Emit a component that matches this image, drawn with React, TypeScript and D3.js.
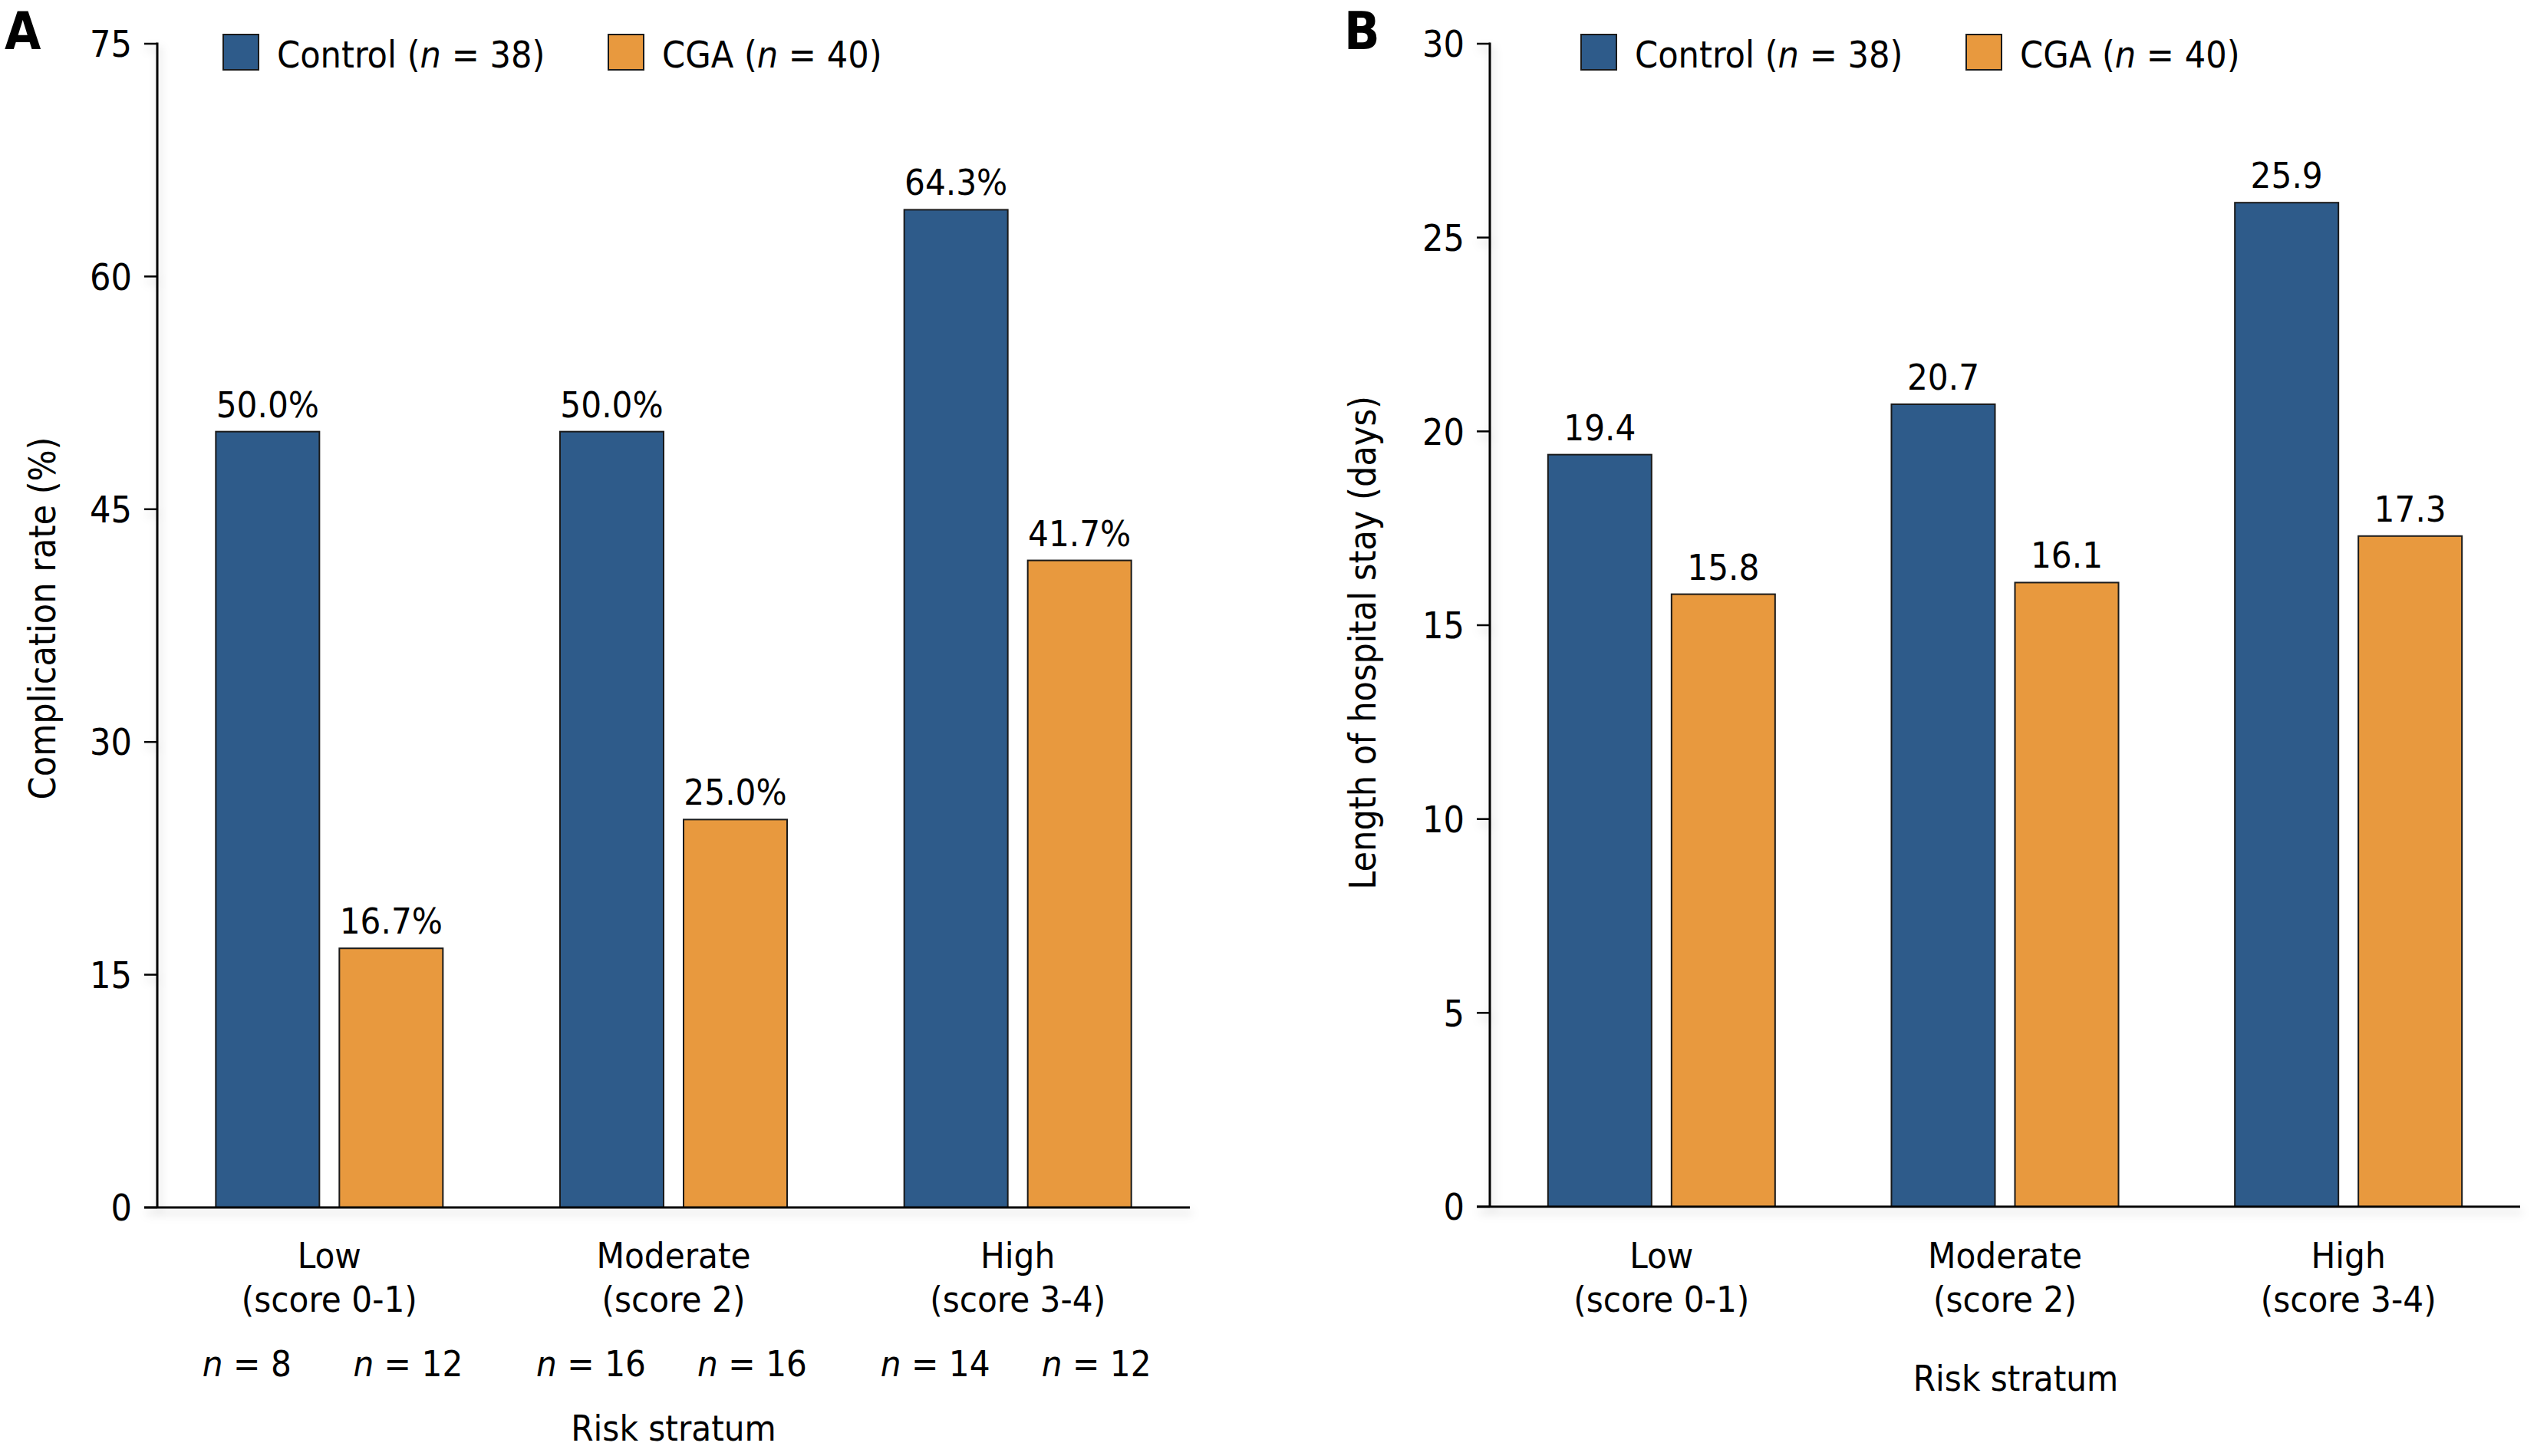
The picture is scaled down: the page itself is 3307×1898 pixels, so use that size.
import React from "react";
import * as d3 from "d3";

const W = 3307;
const H = 1898;

const categories = ["Low", "Moderate", "High"];
const categorySub = ["(score 0-1)", "(score 2)", "(score 3-4)"];
const seriesKeys = ["Control", "CGA"];
const seriesN = [38, 40];
const seriesColors = ["#2E5B8A", "#E8993E"];

const complicationControl = [50.0, 50.0, 64.3];
const complicationCGA = [16.7, 25.0, 41.7];
const losControl = [19.4, 20.7, 25.9];
const losCGA = [15.8, 16.1, 17.3];
const nControl = [8, 16, 14];
const nCGA = [12, 16, 12];

const ticksA = [0, 15, 30, 45, 60, 75];
const ticksB = [0, 5, 10, 15, 20, 25, 30];

const FONT = "'DejaVu Sans Condensed', 'DejaVu Sans', sans-serif";

type PanelCfg = {
  letter: string;
  letterX: number;
  axisX: number;
  rightX: number;
  yTop: number;
  yBottom: number;
  max: number;
  ticks: number[];
  control: number[];
  cga: number[];
  fmt: (v: number) => string;
  title: string;
  titleX: number;
  titleY: number;
  showN: boolean;
  riskY: number;
  riskDX: number;
  legendX: number;
};

const panels: PanelCfg[] = [
  {
    letter: "A",
    letterX: 6,
    axisX: 205,
    rightX: 1551,
    yTop: 57,
    yBottom: 1574,
    max: 75,
    ticks: ticksA,
    control: complicationControl,
    cga: complicationCGA,
    fmt: (v) => `${v.toFixed(1)}%`,
    title: "Complication rate (%)",
    titleX: 72,
    titleY: 806,
    showN: true,
    riskY: 1878,
    riskDX: 0,
    legendX: 291,
  },
  {
    letter: "B",
    letterX: 1752,
    axisX: 1942,
    rightX: 3285,
    yTop: 57,
    yBottom: 1573,
    max: 30,
    ticks: ticksB,
    control: losControl,
    cga: losCGA,
    fmt: (v) => v.toFixed(1),
    title: "Length of hospital stay (days)",
    titleX: 1793,
    titleY: 838,
    showN: false,
    riskY: 1813,
    riskDX: 14,
    legendX: 2061,
  },
];

function Panel({ p }: { p: PanelCfg }) {
  const y = d3.scaleLinear().domain([0, p.max]).range([p.yBottom, p.yTop]);
  const xg = d3.scaleBand<string>().domain(categories).range([p.axisX, p.rightX]).paddingInner(0).paddingOuter(0);
  const bw = xg.bandwidth();
  const xs = d3
    .scaleBand<string>()
    .domain(seriesKeys)
    .range([bw / 2 - 148, bw / 2 + 148])
    .paddingInner(26 / 161)
    .paddingOuter(0);
  const values = [p.control, p.cga];
  const ns = [nControl, nCGA];
  const nOffsets = [-27, 22];
  const tickLen = 17;

  return (
    <g>
      <text x={p.letterX} y={64} fontFamily={FONT} fontWeight="bold" fontSize={68} fill="#000">
        {p.letter}
      </text>

      {/* legend */}
      {seriesKeys.map((k, i) => {
        const lx = p.legendX + i * 502;
        return (
          <g key={k}>
            <rect x={lx} y={45} width={46} height={46} fill={seriesColors[i]} stroke="#1a1a1a" strokeWidth={2} />
            <text x={lx + 70} y={88} fontFamily={FONT} fontSize={48} fill="#000">
              {k} (<tspan fontStyle="italic">n</tspan> = {seriesN[i]})
            </text>
          </g>
        );
      })}

      {/* bars */}
      {categories.map((c, ci) => (
        <g key={c} transform={`translate(${xg(c)},0)`}>
          {seriesKeys.map((k, si) => {
            const v = values[si][ci];
            const bx = xs(k) as number;
            const top = y(v);
            return (
              <g key={k}>
                <rect
                  x={bx}
                  y={top}
                  width={xs.bandwidth()}
                  height={y(0) - top}
                  fill={seriesColors[si]}
                  stroke="#1a1a1a"
                  strokeWidth={2}
                />
                <text
                  x={bx + xs.bandwidth() / 2}
                  y={top - 19}
                  textAnchor="middle"
                  fontFamily={FONT}
                  fontSize={47}
                  fill="#000"
                >
                  {p.fmt(v)}
                </text>
                {p.showN && (
                  <text
                    x={bx + xs.bandwidth() / 2 + nOffsets[si]}
                    y={1794}
                    textAnchor="middle"
                    fontFamily={FONT}
                    fontSize={47}
                    fill="#000"
                  >
                    <tspan fontStyle="italic">n</tspan> = {ns[si][ci]}
                  </text>
                )}
              </g>
            );
          })}
          <text x={bw / 2} y={1653} textAnchor="middle" fontFamily={FONT} fontSize={47} fill="#000">
            {c}
          </text>
          <text x={bw / 2} y={1710} textAnchor="middle" fontFamily={FONT} fontSize={47} fill="#000">
            {categorySub[ci]}
          </text>
        </g>
      ))}

      {/* axes */}
      <g filter="url(#axShadow)">
        <line x1={p.axisX} x2={p.axisX} y1={p.yTop - 1.5} y2={p.yBottom} stroke="#000" strokeWidth={3} />
        <line x1={p.axisX - tickLen} x2={p.rightX} y1={y(0)} y2={y(0)} stroke="#000" strokeWidth={3} />
        {p.ticks.map((t) => (
          <line key={t} x1={p.axisX - tickLen} x2={p.axisX} y1={y(t)} y2={y(t)} stroke="#000" strokeWidth={2.5} />
        ))}
      </g>
      {p.ticks.map((t) => (
        <text
          key={t}
          x={p.axisX - 33}
          y={y(t)}
          dy="0.36em"
          textAnchor="end"
          fontFamily={FONT}
          fontSize={48}
          fill="#000"
        >
          {t}
        </text>
      ))}

      <text
        transform={`translate(${p.titleX},${p.titleY}) rotate(-90)`}
        textAnchor="middle"
        fontFamily={FONT}
        fontSize={48}
        fill="#000"
      >
        {p.title}
      </text>
      <text
        x={(p.axisX + p.rightX) / 2 + p.riskDX}
        y={p.riskY}
        textAnchor="middle"
        fontFamily={FONT}
        fontSize={47}
        fill="#000"
      >
        Risk stratum
      </text>
    </g>
  );
}

export default function App() {
  return (
    <svg
      width={W}
      height={H}
      viewBox={`0 0 ${W} ${H}`}
      style={{ position: "absolute", left: 0, top: 0, background: "#fff" }}
      fontStretch="condensed"
    >
      <defs>
        <filter id="axShadow" x="-5%" y="-5%" width="110%" height="110%">
          <feGaussianBlur in="SourceAlpha" stdDeviation="6" />
          <feOffset dx="3" dy="7" result="blur" />
          <feFlood floodColor="#000" floodOpacity="0.18" />
          <feComposite in2="blur" operator="in" />
          <feMerge>
            <feMergeNode />
            <feMergeNode in="SourceGraphic" />
          </feMerge>
        </filter>
      </defs>
      <rect x={0} y={0} width={W} height={H} fill="#fff" />
      {panels.map((p) => (
        <Panel key={p.letter} p={p} />
      ))}
    </svg>
  );
}
